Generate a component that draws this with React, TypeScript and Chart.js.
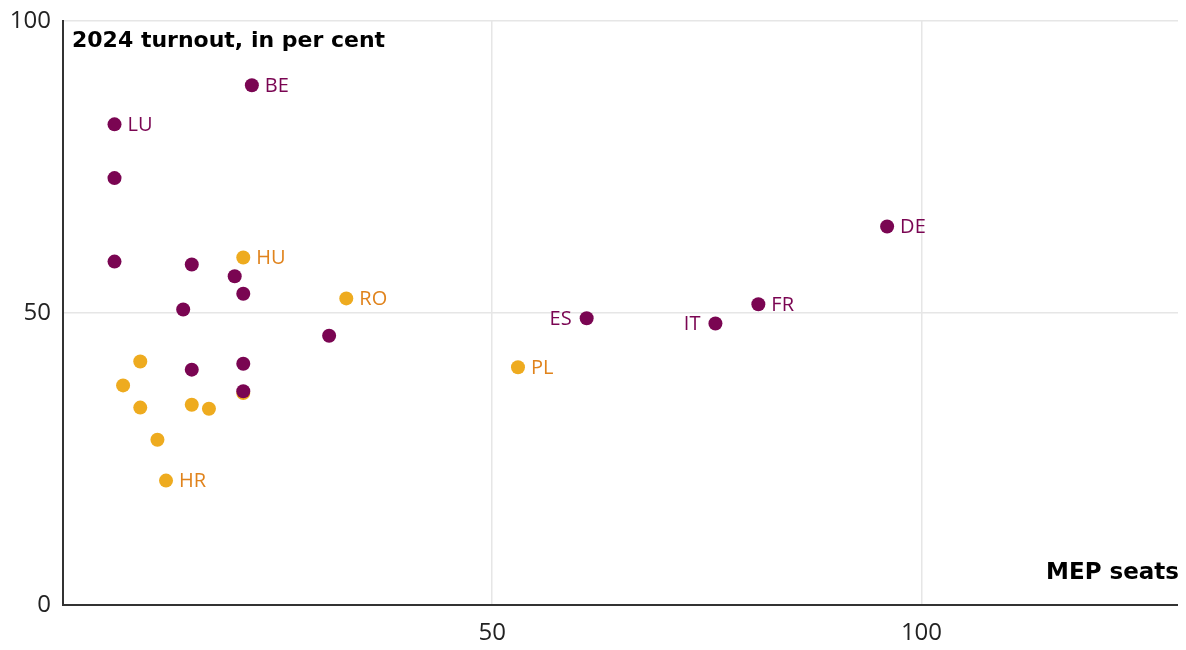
import React, { useEffect, useRef } from "react";
import { Chart, registerables } from "chart.js";

Chart.register(...registerables);

// EU member states: MEP seats vs 2024 turnout (%)
const purpleCodes = ["LU", "BE", "MT", "CY", "DK", "FI", "IE", "AT", "SE", "GR", "PT", "NL", "ES", "IT", "FR", "DE"];
const purpleSeats = [6, 22, 6, 6, 15, 15, 14, 20, 21, 21, 21, 31, 61, 76, 81, 96];
const purpleTurnout = [82.3, 89.0, 73.1, 58.8, 58.3, 40.3, 50.6, 56.3, 53.3, 41.3, 36.6, 46.1, 49.1, 48.2, 51.5, 64.8];

const orangeCodes = ["EE", "SI", "LV", "LT", "HR", "SK", "BG", "HU", "CZ", "RO", "PL"];
const orangeSeats = [7, 9, 9, 11, 12, 15, 17, 21, 21, 33, 53];
const orangeTurnout = [37.6, 41.7, 33.8, 28.3, 21.3, 34.3, 33.6, 59.5, 36.3, 52.5, 40.7];

const labelledRight = ["LU", "BE", "HU", "RO", "PL", "FR", "DE", "HR"];
const labelledLeft = ["ES", "IT"];

const xTicks = [50, 100];
const yTicks = [0, 50, 100];

const PURPLE = "#7a0552";
const ORANGE = "#eeab1f";
const ORANGE_TEXT = "#e0831c";

const FONT = "'Open Sans', 'Noto Sans', sans-serif";
const TITLE_FONT = "'DejaVu Sans', sans-serif";

export default function App() {
  const ref = useRef<HTMLCanvasElement | null>(null);

  useEffect(() => {
    if (!ref.current) return;
    const labelPlugin = {
      id: "labels",
      afterDatasetsDraw(chart: any) {
        const ctx = chart.ctx;
        const { chartArea } = chart;
        ctx.save();
        chart.data.datasets.forEach((ds: any, di: number) => {
          const meta = chart.getDatasetMeta(di);
          meta.data.forEach((pt: any, i: number) => {
            const code = ds.codes[i];
            ctx.font = `20px ${FONT}`;
            ctx.fillStyle = ds.textColor;
            ctx.textBaseline = "middle";
            if (labelledRight.includes(code)) {
              ctx.textAlign = "left";
              ctx.fillText(code, pt.x + 13, pt.y + 1);
            } else if (labelledLeft.includes(code)) {
              ctx.textAlign = "right";
              ctx.fillText(code, pt.x - 15, pt.y + 1);
            }
          });
        });
        ctx.fillStyle = "#000";
        ctx.font = `bold 22px ${TITLE_FONT}`;
        ctx.textAlign = "left";
        ctx.textBaseline = "alphabetic";
        ctx.fillText("2024 turnout, in per cent", chartArea.left + 9, chartArea.top + 26);
        ctx.font = `bold 23px ${TITLE_FONT}`;
        ctx.textAlign = "right";
        ctx.fillText("MEP seats", chartArea.right, chartArea.bottom - 26);
        ctx.restore();
      },
    };

    const chart = new Chart(ref.current, {
      type: "scatter",
      data: {
        datasets: [
          {
            label: "Purple",
            codes: purpleCodes,
            textColor: PURPLE,
            data: purpleSeats.map((x, i) => ({ x, y: purpleTurnout[i] })),
            backgroundColor: PURPLE,
            borderWidth: 0,
            pointRadius: 7,
          } as any,
          {
            label: "Orange",
            codes: orangeCodes,
            textColor: ORANGE_TEXT,
            data: orangeSeats.map((x, i) => ({ x, y: orangeTurnout[i] })),
            backgroundColor: ORANGE,
            borderWidth: 0,
            pointRadius: 7,
          } as any,
        ],
      },
      options: {
        animation: false,
        responsive: true,
        maintainAspectRatio: false,
        layout: { padding: { top: 13, right: 7, left: 0, bottom: 0 } },
        plugins: { legend: { display: false }, tooltip: { enabled: false } },
        scales: {
          x: {
            type: "linear",
            min: 0,
            max: 130,
            afterBuildTicks: (s: any) => {
              s.ticks = xTicks.map((v) => ({ value: v }));
            },
            afterFit: (s: any) => {
              s.height = 45;
              s.paddingLeft = 0;
              s.paddingRight = 0;
            },
            ticks: {
              font: { size: 24, family: FONT },
              color: "#222",
              padding: 14,
            },
            grid: { color: "#e6e6e6", lineWidth: 1.5, drawTicks: false },
            border: { color: "#333", width: 2 },
          },
          y: {
            type: "linear",
            min: 0,
            max: 100,
            afterBuildTicks: (s: any) => {
              s.ticks = yTicks.map((v) => ({ value: v }));
            },
            afterFit: (s: any) => {
              s.width = 55;
              s.paddingTop = 0;
              s.paddingBottom = 0;
            },
            ticks: {
              font: { size: 24, family: FONT },
              color: "#222",
              padding: 12,
            },
            grid: { color: "#e6e6e6", lineWidth: 1.5, drawTicks: false },
            border: { color: "#333", width: 2 },
          },
        },
      },
      plugins: [labelPlugin],
    } as any);
    return () => chart.destroy();
  }, []);

  return (
    <div style={{ width: 1178, height: 642, marginBottom: -8, position: "relative" }}>
      <canvas ref={ref} />
    </div>
  );
}
